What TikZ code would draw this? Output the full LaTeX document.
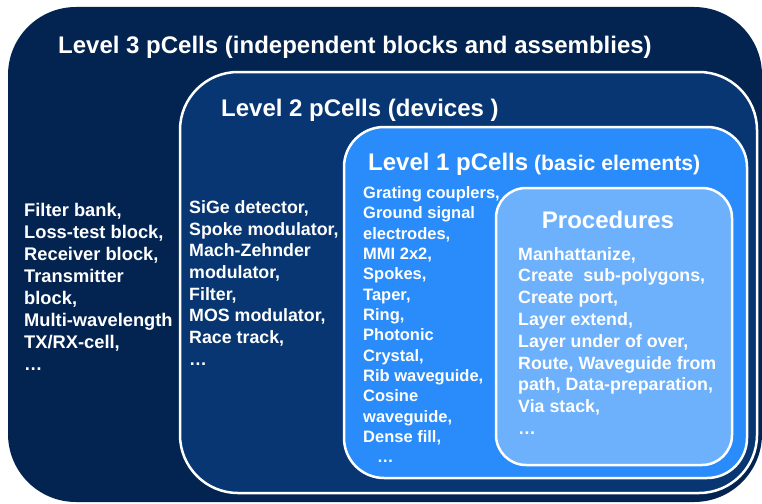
\documentclass[tikz,border=0pt]{standalone}
\usepackage{fontspec}
\setmainfont{Liberation Sans}
\definecolor{lthree}{RGB}{3,36,81}
\definecolor{ltwo}{RGB}{7,54,114}
\definecolor{lone}{RGB}{42,140,251}
\definecolor{proc}{RGB}{109,176,251}
\begin{document}
\begin{tikzpicture}[x=1pt,y=-1pt,
  frame/.style={draw=white, line width=2.5pt},
  title/.style={text=white, font=\bfseries\fontsize{24}{28}\selectfont, anchor=base west, inner sep=0pt},
  item/.style={text=white, font=\bfseries\fontsize{17.8}{21}\selectfont, anchor=base west, inner sep=0pt},
  bigitem/.style={text=white, font=\bfseries\fontsize{18.3}{21}\selectfont, anchor=base west, inner sep=0pt},
  smallitem/.style={text=white, font=\bfseries\fontsize{16.5}{20}\selectfont, anchor=base west, inner sep=0pt}]
\useasboundingbox (0,0) rectangle (762,503);
% boxes
\fill[lthree, rounded corners=68pt] (8,7) rectangle (762,502);
\filldraw[ltwo, frame, rounded corners=58pt] (180,72) rectangle (757,493);
\filldraw[lone, frame, rounded corners=40pt] (344,127) rectangle (747,478);
\filldraw[proc, frame, rounded corners=30pt] (496,188) rectangle (732,465);
% titles
\node[title] (t3) at (58,53.3) {Level 3 pCells (independent blocks and assemblies)};
\node[title] (t2) at (221,116.5) {Level 2 pCells (devices )};
\node[title] (t1) at (368,170.5) {Level 1 pCells{\fontsize{21.2}{24}\selectfont\ (basic elements)}};
\node[title, anchor=base] (tp) at (608,228.3) {Procedures};
% level 3 list
\foreach \t [count=\i] in {{Filter bank,},{Loss-test block,},{Receiver block,},{Transmitter},{block,},{Multi-wavelength},{TX/RX-cell,},{…}}
  \node[bigitem] (a\i) at (24,{216.7+(\i-1)*21.9}) {\t};
% level 2 list
\foreach \t [count=\i] in {{SiGe detector,},{Spoke modulator,},{Mach-Zehnder},{modulator,},{Filter,},{MOS modulator,},{Race track,},{…}}
  \node[item] (b\i) at (189,{213.3+(\i-1)*21.7}) {\t};
% level 1 list
\foreach \t [count=\i] in {{Grating couplers,},{Ground signal},{electrodes,},{MMI 2x2,},{Spokes,},{Taper,},{Ring,},{Photonic},{Crystal,},{Rib waveguide,},{Cosine},{waveguide,},{Dense fill,}}
  \node[smallitem] (c\i) at (363,{198.3+(\i-1)*20.35}) {\t};
\node[smallitem] (c14) at (377,{198.3+13*20.35}) {…};
% procedures list
\foreach \t [count=\i] in {{Manhattanize,},{Create\ \ sub-polygons,},{Create port,},{Layer extend,},{Layer under of over,},{Route, Waveguide from},{path, Data-preparation,},{Via stack,},{…}}
  \node[item] (d\i) at (518,{260+(\i-1)*21.8}) {\t};
\end{tikzpicture}
\end{document}
